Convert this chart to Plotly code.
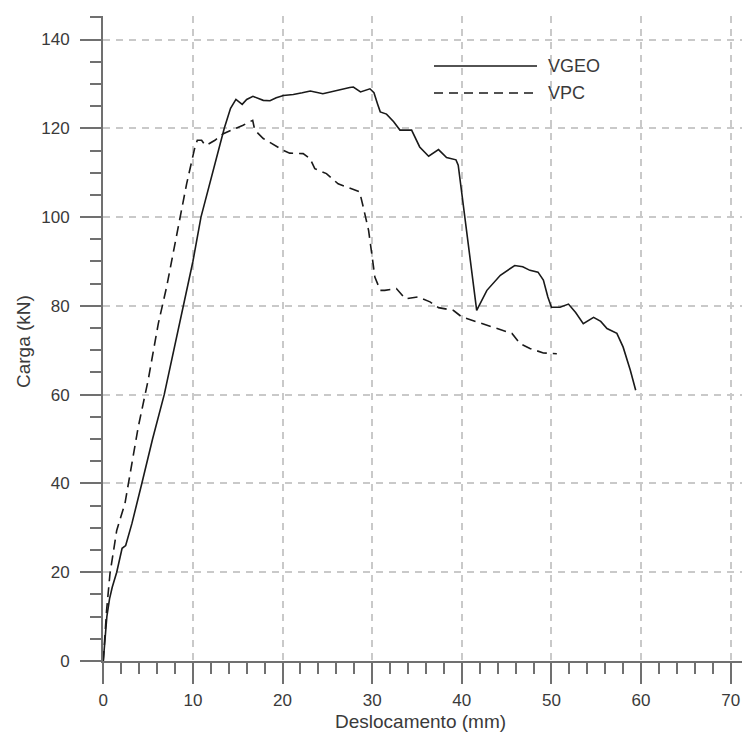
import plotly.graph_objects as go

# ---- data ----
vgeo_x = [0, 0.2, 0.4, 0.7, 1.0, 1.5, 2.1, 2.5, 3.2, 4.3, 5.5, 6.8, 8.4, 9.0, 10.0, 10.9,
          12.2, 13.5, 14.2, 14.8, 15.5, 16.0, 16.7, 17.3, 17.85, 18.6, 19.3, 20.1, 21.2,
          22.2, 23.1, 24.5, 25.3, 26.0, 27.5, 27.9, 28.7, 29.75, 30.2, 30.6, 30.9, 31.6,
          32.4, 33.1, 34.4, 35.3, 36.3, 37.4, 38.3, 39.35, 39.6, 41.66, 42.8, 44.3, 45.9,
          46.8, 47.6, 48.5, 49.1, 49.6, 50.0, 50.96, 51.9, 52.7, 53.55, 54.7, 55.5, 56.2,
          57.3, 58.0, 58.8, 59.4]
vgeo_y = [0, 5, 10, 14, 16.6, 20, 25.4, 26.0, 31, 40, 50, 60, 75, 80, 90, 100,
          110, 120, 124.5, 126.5, 125.4, 126.5, 127.2, 126.8, 126.3, 126.2, 126.9, 127.4, 127.6,
          128.0, 128.4, 127.8, 128.2, 128.4, 129.2, 129.3, 128.2, 128.9, 128.0, 125.5, 123.7, 123.2,
          121.5, 119.6, 119.6, 115.8, 113.7, 115.2, 113.4, 112.9, 111.7, 79.0, 83.5, 86.9, 89.1,
          88.8, 88.0, 87.6, 85.8, 82.0, 79.7, 79.7, 80.4, 78.5, 76.0, 77.4, 76.5, 74.9,
          73.8, 70.7, 65.5, 61.0]

vpc_x = [0, 0.2, 0.37, 0.75, 1.5, 2.42, 2.98, 3.9, 5.0, 6.14, 7.07, 8.56, 9.3, 10.23, 10.49,
         10.97, 11.35, 11.7, 12.46, 13.39, 14.69, 15.6, 16.67, 16.9, 17.85, 18.8, 20.1, 20.8,
         22.3, 23.06, 23.6, 24.9, 26.2, 27.7, 28.6, 29.0, 29.6, 29.95, 30.3, 30.9, 31.4, 32.7,
         33.7, 35.1, 36.45, 37.4, 39.05, 40.0, 41.66, 43.9, 45.6, 46.5, 47.6, 49.1, 50.6]
vpc_y = [0, 6.9, 11.4, 19.7, 29.4, 35.5, 42.2, 52.7, 63.2, 76.0, 84.3, 100, 107.5, 115.8, 117.3,
         117.3, 116.2, 116.4, 117.3, 118.8, 119.9, 120.7, 121.8, 119.6, 117.7, 116.6, 115.0, 114.4,
         114.3, 113.2, 110.9, 109.8, 107.5, 106.4, 105.7, 102.3, 97.0, 91.8, 86.5, 83.5, 83.5, 83.9,
         81.6, 82.0, 80.9, 79.6, 79.0, 77.5, 76.4, 74.9, 73.8, 71.5, 70.4, 69.4, 69.2]

series_names = ["VGEO", "VPC"]
x_title = "Deslocamento (mm)"
y_title = "Carga (kN)"

FONT = "Liberation Sans, Arial, sans-serif"
TXT = "#3a3a3a"
AX = "#707070"
GRID = "#c9c9c9"
LINE = "#1a1a1a"

W, H = 742, 733
ML, MR, MT, MB = 103, 0, 16, 72
pw, ph = W - ML - MR, H - MT - MB

fig = go.Figure()
fig.add_trace(go.Scatter(x=vgeo_x, y=vgeo_y, mode="lines", name=series_names[0],
                         line=dict(color=LINE, width=1.6)))
fig.add_trace(go.Scatter(x=vpc_x, y=vpc_y, mode="lines", name=series_names[1],
                         line=dict(color=LINE, width=1.6, dash="10px,6px")))

# helpers converting window pixels to paper coordinates
def px2paper_x(p):
    return (p - ML) / pw

def px2paper_y(p):
    return (H - MB - p) / ph

shapes = [
    # extension of x axis line to the left of the y axis
    dict(type="line", xref="paper", yref="paper", x0=px2paper_x(83), x1=0, y0=0, y1=0,
         line=dict(color=AX, width=2)),
    # legend samples
    dict(type="line", xref="paper", yref="paper", x0=px2paper_x(434), x1=px2paper_x(537),
         y0=px2paper_y(66), y1=px2paper_y(66), line=dict(color=LINE, width=1.6)),
    dict(type="line", xref="paper", yref="paper", x0=px2paper_x(434), x1=px2paper_x(537),
         y0=px2paper_y(93), y1=px2paper_y(93), line=dict(color=LINE, width=1.6, dash="9px,6px")),
]

annotations = [
    dict(text=series_names[0], xref="paper", yref="paper", x=px2paper_x(546), y=px2paper_y(66),
         xanchor="left", yanchor="middle", showarrow=False, font=dict(family=FONT, size=18, color=TXT)),
    dict(text=series_names[1], xref="paper", yref="paper", x=px2paper_x(546), y=px2paper_y(93),
         xanchor="left", yanchor="middle", showarrow=False, font=dict(family=FONT, size=18, color=TXT)),
    dict(text=x_title, xref="paper", yref="paper", x=px2paper_x(420), y=px2paper_y(722),
         xanchor="center", yanchor="middle", showarrow=False, font=dict(family=FONT, size=19, color=TXT)),
    dict(text=y_title, xref="paper", yref="paper", x=px2paper_x(23), y=px2paper_y(342),
         xanchor="center", yanchor="middle", textangle=-90, showarrow=False,
         font=dict(family=FONT, size=19, color=TXT)),
]

axis_common = dict(
    showline=True, linecolor=AX, linewidth=2,
    ticks="outside", ticklen=21, tickwidth=2, tickcolor=AX,
    showgrid=True, gridcolor=GRID, gridwidth=1.5, griddash="7px,6px",
    zeroline=False,
    tickfont=dict(family=FONT, size=17, color=TXT),
)

fig.update_layout(
    width=W, height=H,
    margin=dict(l=ML, r=MR, t=MT, b=MB),
    paper_bgcolor="white", plot_bgcolor="white",
    showlegend=False,
    xaxis=dict(range=[-0.03, 71.26], tick0=0, dtick=10, ticklabelstandoff=2,
               minor=dict(ticks="outside", ticklen=11, tickwidth=2, tickcolor=AX, dtick=2, tick0=0,
                          showgrid=False),
               **axis_common),
    yaxis=dict(range=[0, 145.3], tick0=0, dtick=20, ticklabelstandoff=7,
               minor=dict(ticks="outside", ticklen=11, tickwidth=2, tickcolor=AX, dtick=5, tick0=0,
                          showgrid=False),
               **axis_common),
    shapes=shapes,
    annotations=annotations,
)

fig.write_html(
    "out.html",
    config={"displayModeBar": False},
    post_script="document.body.style.margin='0';document.documentElement.style.overflow='hidden';",
)
